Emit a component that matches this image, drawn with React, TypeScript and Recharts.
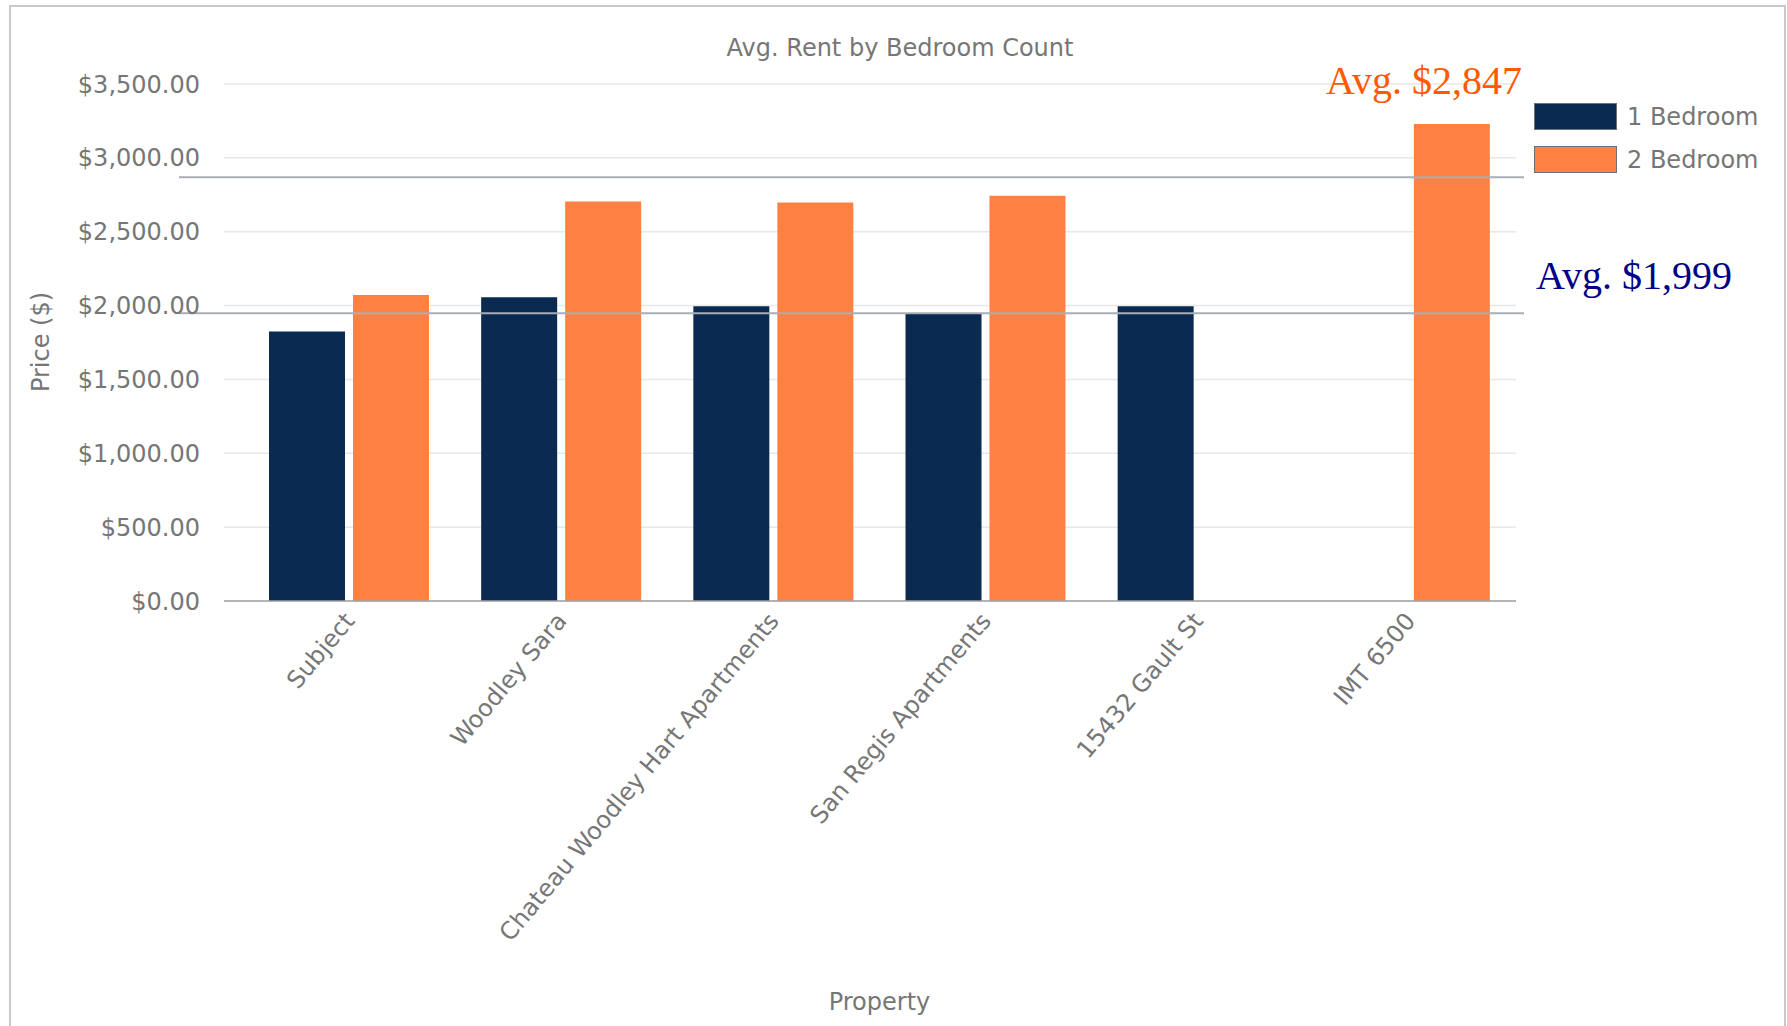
import React from 'react';
import { BarChart, Bar, XAxis, YAxis, CartesianGrid, ReferenceLine, Legend } from 'recharts';

const properties = ['Subject', 'Woodley Sara', 'Chateau Woodley Hart Apartments', 'San Regis Apartments', '15432 Gault St', 'IMT 6500'];
const oneBedroom: (number | null)[] = [1825, 2056, 1995, 1948, 1995, null];
const twoBedroom: (number | null)[] = [2072, 2705, 2697, 2744, null, 3230];
const yTicks = [0, 500, 1000, 1500, 2000, 2500, 3000, 3500];
const seriesNames = ['1 Bedroom', '2 Bedroom'];
const seriesColors = ['#0a2a52', '#fe8142'];
// average lines as drawn in the picture, with their printed labels
const avgLineValues = [2868, 1948];
const avgLabels = ['Avg. $2,847', 'Avg. $1,999'];
const avgColors = ['#ff5a00', '#000088'];

const data = properties.map((name, i) => ({ name, b1: oneBedroom[i], b2: twoBedroom[i] }));

const FONT = 'DejaVu Sans';
const GRAY = '#767676';

const fmt = (v: number) => '$' + v.toLocaleString('en-US', { minimumFractionDigits: 2, maximumFractionDigits: 2 });

const YTick = (props: any) => {
  const { x, y, payload } = props;
  return (
    <text x={x} y={y} dy="0.36em" textAnchor="end" fontFamily={FONT} fontSize={24} fill={GRAY}>
      {fmt(payload.value)}
    </text>
  );
};

const XTick = (props: any) => {
  const { x, y, payload } = props;
  return (
    <g transform={`translate(${x},${y + 15})`}>
      <text transform="rotate(-50)" textAnchor="end" dy="0.36em" fontFamily={FONT} fontSize={24} fill={GRAY}>
        {payload.value}
      </text>
    </g>
  );
};

const makeAvgShape = (idx: number, tdx: number, tdy: number) => (props: any) => {
  const { x1, y1, x2 } = props;
  return (
    <g>
      <line x1={x1 - 45} y1={y1} x2={x2 + 8} y2={y1} stroke="#a9aeb4" strokeWidth={2} />
      <text x={x2 + tdx} y={y1 + tdy} fontFamily="Liberation Serif" fontSize={40} fill={avgColors[idx]}>
        {avgLabels[idx]}
      </text>
    </g>
  );
};

const renderLegend = () => (
  <div style={{ fontFamily: FONT, fontSize: 24, color: GRAY }}>
    {seriesNames.map((n, i) => (
      <div key={n} style={{ display: 'flex', alignItems: 'center', height: 27, marginBottom: i === 0 ? 16 : 0 }}>
        <div style={{ width: 81, height: 25, background: seriesColors[i], border: '1px solid #707070', marginRight: 10 }} />
        <span>{n}</span>
      </div>
    ))}
  </div>
);

export default function App() {
  return (
    <div style={{ position: 'relative', width: 1787, height: 1026, overflow: 'hidden', background: '#fff' }}>
      <style>{'body{margin:0;overflow:hidden;}'}</style>
      <div style={{ position: 'absolute', left: 9, top: 5, width: 1773, height: 1200, border: '2px solid #c8c8c8', boxSizing: 'content-box' }} />
      <div style={{ position: 'absolute', left: 0, top: 34, width: 1800, textAlign: 'center', fontFamily: FONT, fontSize: 24, lineHeight: '28px', color: GRAY }}>
        Avg. Rent by Bedroom Count
      </div>
      <div style={{ position: 'absolute', left: 0, top: 0 }}>
        <BarChart width={1787} height={1026} data={data} margin={{ top: 84, right: 271, bottom: 0, left: 0 }} barSize={76} barGap={8}>
          <CartesianGrid vertical={false} stroke="#e8e8e8" strokeWidth={1.5} />
          <XAxis
            dataKey="name"
            height={425}
            interval={0}
            tickLine={false}
            tickSize={0}
            tickMargin={0}
            axisLine={{ stroke: '#a0a0a0', strokeWidth: 1.5 }}
            padding={{ left: 19, right: 0 }}
            tick={<XTick />}
            label={{
              content: (p: any) => {
                const vb = p.viewBox;
                return (
                  <text x={vb.x + 19 + (vb.width - 19) / 2} y={1001} dy="0.36em" textAnchor="middle" fontFamily={FONT} fontSize={24} fill={GRAY}>
                    Property
                  </text>
                );
              },
            }}
          />
          <YAxis
            width={224}
            domain={[0, 3500]}
            ticks={yTicks}
            axisLine={false}
            tickLine={false}
            tickSize={0}
            tickMargin={24}
            tick={<YTick />}
            label={{
              content: () => (
                <text x={40} y={342} dy="0.36em" textAnchor="middle" transform="rotate(-90 40 342)" fontFamily={FONT} fontSize={24} fill={GRAY}>
                  Price ($)
                </text>
              ),
            }}
          />
          <Legend layout="vertical" align="center" verticalAlign="middle" content={renderLegend} wrapperStyle={{ position: 'absolute', left: 1534, top: 103, width: 250 }} />
          <Bar dataKey="b1" name={seriesNames[0]} fill={seriesColors[0]} isAnimationActive={false} />
          <Bar dataKey="b2" name={seriesNames[1]} fill={seriesColors[1]} isAnimationActive={false} />
          <ReferenceLine y={avgLineValues[0]} ifOverflow="visible" shape={makeAvgShape(0, -190, -83)} />
          <ReferenceLine y={avgLineValues[1]} ifOverflow="visible" shape={makeAvgShape(1, 20, -24)} />
        </BarChart>
      </div>
    </div>
  );
}
